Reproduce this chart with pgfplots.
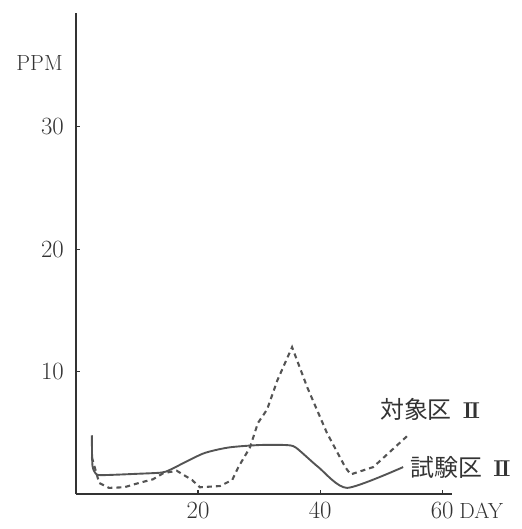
\documentclass[border=0pt]{standalone}
\usepackage{pgfplots}
\pgfplotsset{compat=1.18}
\usepackage{fontspec}
\newfontfamily\cjk{Noto Sans CJK JP}

\definecolor{ink}{gray}{0.2}
\definecolor{trace}{gray}{0.33}

% 試験区 II (solid)
\pgfplotstableread{
x y
2.6 4.8
2.7 2.3
3.4 1.6
5.0 1.55
10 1.65
14 1.75
15.5 2.0
20.8 3.3
25 3.8
30 4.0
34.3 4.0
36 3.8
39.7 2.2
44.4 0.5
53.6 2.2
}\testplot

% 対象区 II (dashed)
\pgfplotstableread{
x y
2.6 3.0
3.8 0.9
5.4 0.5
7.9 0.55
10.3 0.9
12.6 1.2
14.3 1.7
16.5 1.9
19.0 1.15
20.3 0.55
23.6 0.65
25.6 1.15
26.6 2.2
28.5 3.8
29.8 5.8
31.3 6.9
33.0 9.3
35.4 12.0
37.9 8.7
41.1 5.0
44.1 2.2
45.0 1.6
48.7 2.2
54.4 4.8
}\controlplot

% serif Roman numeral two, set heavy with joined serifs
\newcommand\numeralII{{\rmfamily\bfseries\fontsize{23}{24}\selectfont I\kern-2.2pt I}}

\begin{document}
\begin{tikzpicture}
\useasboundingbox (-76bp,-35bp) rectangle (446bp,494bp);
\begin{axis}[
  scale only axis, width=376bp, height=481bp,
  xmin=0, xmax=61.6, ymin=0, ymax=39.3,
  axis lines=left, axis line style={-, ink, line width=1.3pt},
  xtick={20,40,60}, ytick={10,20,30},
  tick align=inside, major tick length=4bp,
  tick style={ink, line width=1.3pt},
  tick label style={font=\fontsize{24}{26}\selectfont, text=ink},
  xticklabel style={inner sep=0pt, yshift=-8bp},
  yticklabel style={inner sep=0pt, xshift=-12bp},
  xlabel={DAY}, ylabel={PPM},
  every axis x label/.style={at={(axis description cs:1.019,-0.034)}, anchor=west,
    font=\fontsize{22}{24}\selectfont, text=ink, inner sep=0pt},
  every axis y label/.style={at={(axis description cs:-0.035,0.896)}, anchor=east,
    font=\fontsize{22}{24}\selectfont, text=ink, inner sep=0pt},
  clip=false,
]
\addplot[trace, line width=1.9pt, smooth, tension=0.4] table {\testplot};
\addplot[trace, line width=2.1pt, dash pattern=on 5bp off 4bp] table {\controlplot};
\node[text=ink, font=\cjk\fontsize{24}{26}\selectfont, inner sep=0pt, anchor=west]
  at (axis cs:49.8,6.9) {対象区\hspace{11bp}\numeralII};
\node[text=ink, font=\cjk\fontsize{24}{26}\selectfont, inner sep=0pt, anchor=west]
  at (axis cs:54.8,2.2) {試験区\hspace{11bp}\numeralII};
\end{axis}
\end{tikzpicture}
\end{document}
